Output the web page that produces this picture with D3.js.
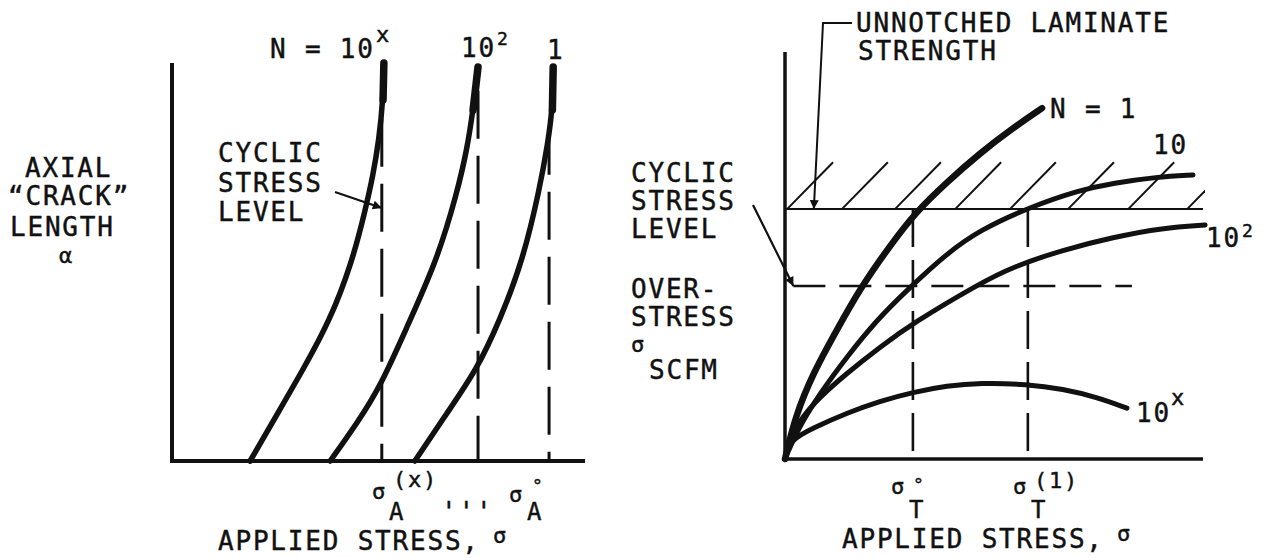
<!DOCTYPE html>
<html>
<head>
<meta charset="utf-8">
<script src="https://cdn.jsdelivr.net/npm/d3@7"></script>
<style>
  body { margin: 0; background: #fff; }
  text { font-family: "DejaVu Sans Mono", monospace; fill: #111; stroke: #111; stroke-width: 0.45px; letter-spacing: 1.8px; }
</style>
</head>
<body>
<div id="chart"></div>
<script>
// left panel: axial crack length vs applied stress, one curve per cycle count
const crackCycles = ["10x", "102", "1"];
const crackCurves = [
  [[18.9, 0], [25.2, 11.3], [31.7, 22.9], [38.3, 35.4], [43.6, 50.0], [46.7, 62.6], [48.7, 71.9], [50.1, 80.7], [51.1, 90.7], [51.3, 100]],
  [[38.3, 0], [44.8, 9.5], [50.4, 18.6], [56.9, 33.7], [64.2, 50.5], [69.0, 67.3], [71.4, 78.1], [72.9, 88.2], [74.1, 99]],
  [[58.8, 0], [66.6, 12.1], [73.8, 22.9], [79.4, 35.4], [85.0, 50.5], [89.1, 68.8], [91.0, 79.9], [92.1, 88.2], [92.3, 99]]
];
const crackLimits = [50.8, 74.1, 91.3];
const crackLimitTops = [86, 93, 84];

// right panel: residual strength vs applied stress
const residualCycles = ["1", "10", "102", "10x"];
const residualCurves = [
  [[0, 0], [2.4, 10.3], [6.7, 21.1], [12.4, 31.7], [17.9, 41.8], [25.1, 52.4], [31.3, 60.7], [38.8, 68.1], [46.7, 75.2], [54.5, 81.3], [61.5, 86.2]],
  [[0, 0], [2.9, 7.1], [8.4, 16.2], [14.8, 25.1], [22.0, 34.2], [29.2, 41.5], [38.8, 50.6], [46.7, 56.3], [58.6, 61.9], [70.6, 66.1], [78.5, 67.8], [89.0, 69.3], [97.6, 69.8]],
  [[0, 0], [1.9, 7.1], [6.7, 13.8], [14.8, 21.1], [22.7, 27.5], [30.6, 33.4], [46.7, 43.2], [54.5, 47.2], [66.5, 51.4], [78.5, 54.5], [90.4, 56.8], [100.5, 57.5]],
  [[0, 0], [1.2, 4.7], [6.7, 7.6], [14.8, 11.3], [22.7, 14.2], [30.6, 16.4], [38.8, 18.0], [46.7, 18.7], [57.9, 18.4], [66.5, 17.2], [74.6, 15.2], [81.8, 12.5]]
];
const laminateStrength = 61.4;
const cyclicStressLevel = 42.5;
const residualCuts = [30.6, 58.1];
const hatchStarts = [0.5, 13.6, 26.3, 40.7, 53.8, 67.7, 82.1, 96.2];

const drawChart = () => {
  const width = 1266;
  const height = 558;

  const svg = d3
    .select("#chart")
    .append("svg")
    .attr("width", width)
    .attr("height", height);

  const defs = svg.append("defs");
  defs
    .append("marker")
    .attr("id", "arrow")
    .attr("viewBox", "0 0 10 10")
    .attr("refX", 10)
    .attr("refY", 5)
    .attr("markerUnits", "userSpaceOnUse")
    .attr("markerWidth", 16)
    .attr("markerHeight", 9)
    .attr("orient", "auto")
    .append("path")
    .attr("d", "M0,0L10,5L0,10z")
    .attr("fill", "#111");

  // parts: [string, x, y, size]
  const addText = (parts) => {
    const t = svg.append("text");
    parts.forEach((p) => {
      t.append("tspan")
        .attr("x", p[1])
        .attr("y", p[2])
        .style("font-size", (p[3] || 26) + "px")
        .text(p[0]);
    });
    return t;
  };

  // ---------- left panel ----------
  const xL = d3.scaleLinear().domain([0, 100]).range([172, 585]);
  const yL = d3.scaleLinear().domain([0, 100]).range([461, 63]);

  const lineL = d3
    .line()
    .x((d) => xL(d[0]))
    .y((d) => yL(d[1]))
    .curve(d3.curveBasis);

  crackLimits.forEach((c, i) => {
    svg
      .append("line")
      .attr("x1", xL(c))
      .attr("x2", xL(c))
      .attr("y1", yL(crackLimitTops[i]))
      .attr("y2", yL(0))
      .attr("stroke", "#111")
      .attr("stroke-width", 3)
      .attr("stroke-dasharray", "48,17");
  });

  crackCurves.forEach((pts) => {
    svg
      .append("path")
      .attr("d", lineL(pts))
      .attr("fill", "none")
      .attr("stroke", "#111")
      .attr("stroke-width", 5.5)
      .attr("stroke-linecap", "round");
    // heavier top end
    svg
      .append("path")
      .attr("d", lineL(pts.slice(-2)))
      .attr("fill", "none")
      .attr("stroke", "#111")
      .attr("stroke-width", 7.5)
      .attr("stroke-linecap", "round");
  });

  svg
    .append("path")
    .attr("d", `M${xL(0)},${yL(100)}V${yL(0)}H${xL(100)}`)
    .attr("fill", "none")
    .attr("stroke", "#111")
    .attr("stroke-width", 4);

  // curve labels
  addText([["N = 10", 270, 58], ["x", 376, 42, 22]]);
  addText([["10", 461, 57], ["2", 497, 45, 18]]);
  addText([["1", 547, 59]]);

  addText([["CYCLIC", 218, 162], ["STRESS", 218, 192], ["LEVEL", 218, 221]]);
  svg
    .append("line")
    .attr("x1", 335)
    .attr("y1", 192)
    .attr("x2", xL(crackLimits[0]))
    .attr("y2", 208)
    .attr("stroke", "#111")
    .attr("stroke-width", 2.2)
    .attr("marker-end", "url(#arrow)");

  addText([
    ["AXIAL", 25, 177],
    ["\u201CCRACK\u201D", 8, 205],
    ["LENGTH", 10, 236],
    ["\u03B1", 59, 263, 22]
  ]);

  addText([["\u03C3", 372, 499, 22], ["(x)", 393, 487, 22], ["A", 389, 520, 24]]);
  addText([["'''", 441, 521, 26]]);
  addText([["\u03C3", 509, 502, 22], ["\u00B0", 532, 492, 18], ["A", 527, 520, 24]]);

  addText([["APPLIED STRESS,", 218, 550], ["\u03C3", 493, 543, 22]]);

  // ---------- right panel ----------
  const xR = d3.scaleLinear().domain([0, 100]).range([785, 1203]);
  const yR = d3.scaleLinear().domain([0, 100]).range([459, 52]);

  const lineR = d3
    .line()
    .x((d) => xR(d[0]))
    .y((d) => yR(d[1]))
    .curve(d3.curveBasis);

  defs
    .append("clipPath")
    .attr("id", "hatch-clip")
    .append("rect")
    .attr("x", xR(0))
    .attr("y", 0)
    .attr("width", xR(100.5) - xR(0))
    .attr("height", height);

  svg
    .append("g")
    .attr("clip-path", "url(#hatch-clip)")
    .selectAll("line")
    .data(hatchStarts)
    .enter()
    .append("line")
    .attr("x1", (d) => xR(d))
    .attr("y1", yR(laminateStrength))
    .attr("x2", (d) => xR(d + 11))
    .attr("y2", yR(laminateStrength + 11.5))
    .attr("stroke", "#111")
    .attr("stroke-width", 2);

  svg
    .append("line")
    .attr("x1", xR(0))
    .attr("x2", xR(100))
    .attr("y1", yR(laminateStrength))
    .attr("y2", yR(laminateStrength))
    .attr("stroke", "#111")
    .attr("stroke-width", 2);

  svg
    .append("line")
    .attr("x1", xR(2))
    .attr("x2", xR(83))
    .attr("y1", yR(cyclicStressLevel))
    .attr("y2", yR(cyclicStressLevel))
    .attr("stroke", "#111")
    .attr("stroke-width", 2.4)
    .attr("stroke-dasharray", "32,14");

  residualCuts.forEach((c) => {
    svg
      .append("line")
      .attr("x1", xR(c))
      .attr("x2", xR(c))
      .attr("y1", yR(laminateStrength))
      .attr("y2", yR(0))
      .attr("stroke", "#111")
      .attr("stroke-width", 2.6)
      .attr("stroke-dasharray", "38,13");
  });

  const residualWidths = [6.5, 5, 5, 5];
  residualCurves.forEach((pts, i) => {
    svg
      .append("path")
      .attr("d", lineR(pts))
      .attr("fill", "none")
      .attr("stroke", "#111")
      .attr("stroke-width", residualWidths[i])
      .attr("stroke-linecap", "round");
  });

  svg
    .append("path")
    .attr("d", `M${xR(0)},${yR(100)}V${yR(0)}H${xR(100)}`)
    .attr("fill", "none")
    .attr("stroke", "#111")
    .attr("stroke-width", 3.5);

  addText([["N = 1", 1050, 118]]);
  addText([["10", 1153, 154]]);
  addText([["10", 1206, 247], ["2", 1242, 237, 18]]);
  addText([["10", 1136, 422], ["x", 1171, 405, 22]]);

  // unnotched strength leader
  addText([["UNNOTCHED LAMINATE", 856, 32], ["STRENGTH", 858, 60]]);
  svg
    .append("path")
    .attr("d", `M852,23H823L${xR(6.9)},${yR(laminateStrength)}`)
    .attr("fill", "none")
    .attr("stroke", "#111")
    .attr("stroke-width", 2)
    .attr("marker-end", "url(#arrow)");

  addText([["CYCLIC", 631, 182], ["STRESS", 631, 210], ["LEVEL", 631, 238]]);
  svg
    .append("line")
    .attr("x1", 753)
    .attr("y1", 205)
    .attr("x2", xR(2))
    .attr("y2", yR(cyclicStressLevel))
    .attr("stroke", "#111")
    .attr("stroke-width", 2.2)
    .attr("marker-end", "url(#arrow)");

  addText([
    ["OVER-", 631, 298],
    ["STRESS", 631, 326],
    ["\u03C3", 631, 352, 22],
    ["SCFM", 649, 379]
  ]);

  addText([["\u03C3", 891, 494, 22], ["\u00B0", 913, 491, 18], ["T", 909, 518, 24]]);
  addText([["\u03C3", 1013, 494, 22], ["(1)", 1034, 488, 22], ["T", 1031, 518, 24]]);

  addText([["APPLIED STRESS,", 842, 548], ["\u03C3", 1117, 541, 22]]);
};

drawChart();
</script>
</body>
</html>
